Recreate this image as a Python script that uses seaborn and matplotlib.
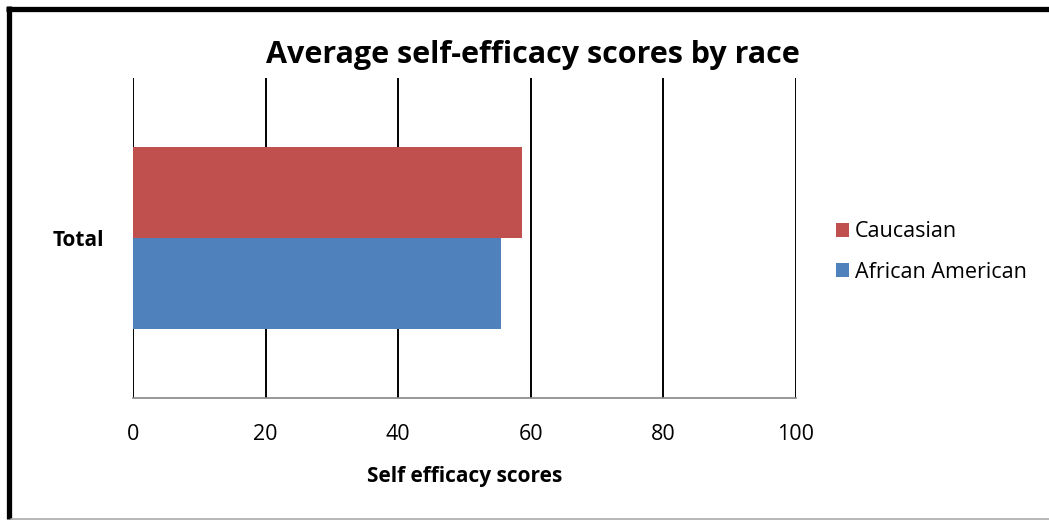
import matplotlib
matplotlib.use("Agg")
import matplotlib.pyplot as plt
from matplotlib.lines import Line2D
from matplotlib.patches import Patch
import seaborn as sns
import pandas as pd

categories = ["Total"]
groups = ["Caucasian", "African American"]
scores = [58.6, 55.5]
colors = ["#C0504D", "#4F81BD"]
x_ticks = [0, 20, 40, 60, 80, 100]

df = pd.DataFrame({
    "category": categories * len(groups),
    "group": groups,
    "score": scores,
})

sns.set_style("white")
plt.rcParams["font.family"] = ["Open Sans", "DejaVu Sans"]
plt.rcParams["text.color"] = "black"

fig = plt.figure(figsize=(10.49, 5.21), dpi=100)
ax = fig.add_axes([133 / 1049, 1 - 398 / 521, (796 - 133) / 1049, (398 - 78) / 521])

sns.barplot(data=df, y="category", x="score", hue="group", hue_order=groups,
            palette=colors, orient="h", width=0.57, saturation=1,
            edgecolor="none", legend=False, ax=ax)

ax.set_xlim(0, 100)
ax.set_ylim(0.5, -0.5)
ax.set_xticks(x_ticks)
ax.set_xticklabels([str(t) for t in x_ticks], fontsize=15.5)
ax.tick_params(axis="x", direction="out", length=10, width=1, color="#868686",
               pad=9, labelcolor="black")
ax.tick_params(axis="y", length=0, pad=21, labelcolor="black")
for lbl in ax.get_yticklabels():
    lbl.set_fontweight("bold")
    lbl.set_fontsize(15)

# vertical gridlines
ax.grid(False)
for t in x_ticks:
    ax.axvline(t, color="black", lw=1.4, zorder=0.5)

for side in ["top", "right", "left"]:
    ax.spines[side].set_visible(False)
ax.spines["bottom"].set_color("#868686")
ax.spines["bottom"].set_linewidth(1.2)

ax.set_xlabel("Self efficacy scores", fontsize=15, fontweight="bold",
              labelpad=15, color="black")
ax.set_ylabel("")

fig.text(533 / 1049, 1 - 55 / 521, "Average self-efficacy scores by race",
         ha="center", va="center", fontsize=22, fontweight="bold", color="black")

handles = [Patch(facecolor=c, edgecolor="none") for c in colors]
fig.legend(handles, groups, loc="center left",
           bbox_to_anchor=(827 / 1049, 1 - 252 / 521), frameon=False,
           fontsize=15.5, handlelength=0.6, handleheight=0.6,
           handletextpad=0.3, labelspacing=0.9, borderaxespad=0)

# frame around the chart area
fig.add_artist(Line2D([6 / 1049, 1], [1 - 8.5 / 521, 1 - 8.5 / 521],
                      color="black", lw=3.8, solid_capstyle="butt"))
fig.add_artist(Line2D([8.5 / 1049, 8.5 / 1049], [1 - 6 / 521, 1 - 519 / 521],
                      color="black", lw=3.8, solid_capstyle="butt"))
fig.add_artist(Line2D([11 / 1049, 1], [1 - 518.5 / 521, 1 - 518.5 / 521],
                      color="#AAAAAA", lw=1.2))

fig.savefig("out.png", dpi=100, facecolor="white")
